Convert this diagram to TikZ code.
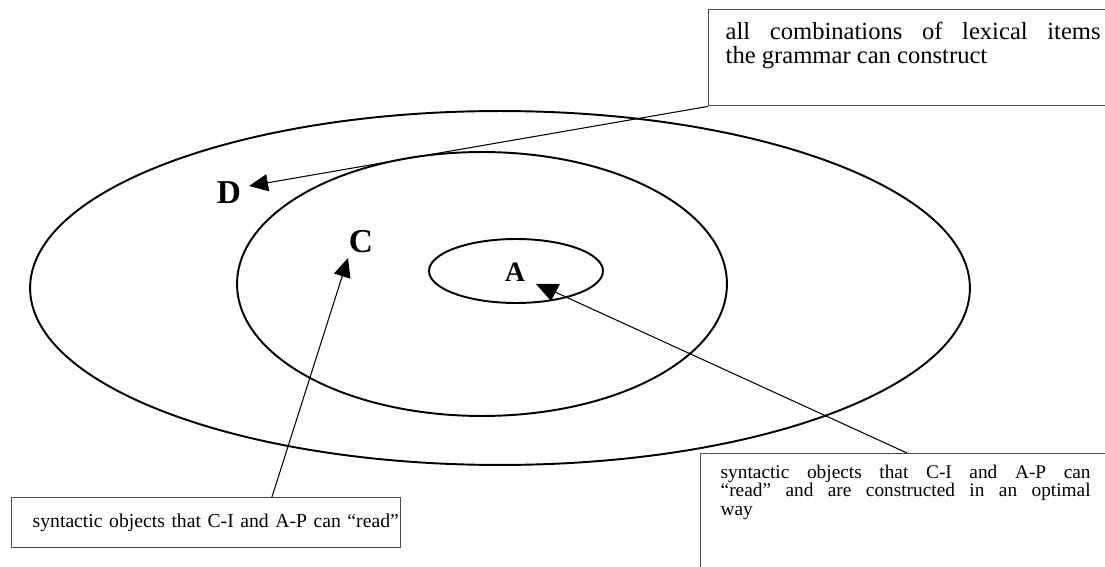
\documentclass[tikz,border=0pt]{standalone}
\usepackage{fontspec}
\setmainfont{Liberation Serif}
\usetikzlibrary{arrows.meta}

\begin{document}
\begin{tikzpicture}[x=0.02cm, y=-0.02cm,
    ring/.style={line width=1.1pt},
    notebox/.style={draw=black!70, line width=0.8pt, anchor=north west, align=justify},
    pointer/.style={line width=0.6pt, -{Triangle[length=0.38cm,width=0.34cm]}},
    letter/.style={inner sep=0pt, font=\fontsize{19}{22}\selectfont\bfseries}]
  \useasboundingbox (0,0) rectangle (1105,567);
  \clip (0,0) rectangle (1105,567);
  \draw[ring] (500,288) ellipse [x radius=9.4cm, y radius=3.54cm];
  \draw[ring] (482,284) ellipse [x radius=4.9cm, y radius=2.64cm];
  \draw[ring] (516,271) ellipse [x radius=1.74cm, y radius=0.64cm];
  \node[letter] (D) at (229,193) {D};
  \node[letter] (C) at (361,242) {C};
  \node[letter, font=\fontsize{16}{18}\selectfont\bfseries] (A) at (515,272) {A};
  \coordinate (dtip) at (249,186);
  \coordinate (ctip) at (348,258);
  \coordinate (atip) at (551,301);
  \node[notebox, text width=7.5cm, inner xsep=0.34cm, inner ysep=0.25cm, font=\fontsize{14}{13.6}\selectfont] (lexbox) at (708,9)
    {all combinations of lexical items\linebreak the grammar can construct\par\kern0.49cm};
  \node[notebox, text width=7.4cm, inner xsep=0.4cm, inner ysep=0.22cm, font=\fontsize{11}{10.5}\selectfont] (optbox) at (700,453)
    {syntactic objects that C-I and A-P can\linebreak ``read'' and are constructed in an optimal\linebreak way\par\kern2cm};
  \node[notebox, text width=6.94cm, inner xsep=0.42cm, inner ysep=0.32cm, align=left, font=\fontsize{11.2}{13.2}\selectfont] (readbox) at (11,497)
    {\mbox{syntactic objects that C-I and A-P can ``read''}};
  \coordinate (ctail) at ([xshift=5.22cm]readbox.north west);
  \coordinate (atail) at ([xshift=4.14cm]optbox.north west);
  \draw[pointer] (lexbox.south west) -- (dtip);
  \draw[pointer] (ctail) -- (ctip);
  \draw[line width=0.6pt] (atail) -- ([shift={(4,-9)}]atip);
  \fill (atip) -- ++(-15,-17) -- ++(24,0) -- cycle;
\end{tikzpicture}
\end{document}
